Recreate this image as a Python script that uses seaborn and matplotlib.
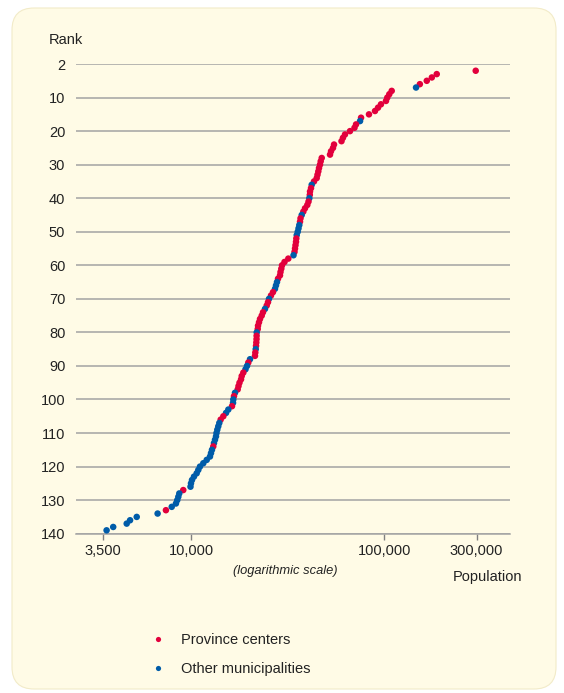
import matplotlib
matplotlib.use("Agg")
import matplotlib.pyplot as plt
from matplotlib.patches import FancyBboxPatch
from matplotlib.ticker import NullLocator
import pandas as pd
import seaborn as sns

# rank 2 .. 139, population
ranks = list(range(2, 140))
population = [
    297000, 186700, 176100, 165800, 152700, 145900, 109200, 106100, 103600, 102000,
    96100, 92800, 89500, 83300, 75800, 74900, 71400, 70100, 66450, 62600,
    61100, 60050, 54930, 54280, 53000, 52380, 47450, 46880, 46490, 45940,
    45560, 45120, 44690, 43280, 42110, 41760, 41270, 41170, 40930, 40540,
    39970, 38890, 38110, 37390, 36860, 36640, 36330, 35990, 35650, 35230,
    35060, 34930, 34720, 34520, 34310, 33910, 31870, 30460, 29570, 29320,
    29040, 28870, 28190, 27850, 27520, 27200, 26560, 25930, 25320, 25020,
    24640, 24140, 23580, 23220, 22750, 22480, 22220, 22140, 21880, 21850,
    21830, 21770, 21700, 21620, 21510, 21430, 20200, 19790, 19490, 19140,
    18650, 18300, 18150, 17820, 17610, 17440, 16890, 16690, 16550, 16500,
    16300, 15600, 15180, 14700, 14240, 14010, 13840, 13680, 13550, 13470,
    13310, 13150, 13040, 12840, 12690, 12540, 12060, 11580, 11130, 10910,
    10700, 10360, 10120, 10000, 9940, 9120, 8700, 8600, 8490, 8360,
    7950, 7420, 6720, 5240, 4840, 4650, 3960, 3660,
]
# ranks that are not province centers
other_ranks = [7, 17, 36, 40, 45, 48, 49, 50, 51, 57, 65, 66, 67, 70, 73, 80, 85,
               88, 90, 91, 98, 100, 101, 103, 104, 107, 108, 109, 110, 111, 112,
               113, 115, 116, 117, 118, 119, 120, 121, 122, 123, 124, 125, 126,
               128, 129, 130, 131, 132, 134, 135, 136, 137, 138, 139]
groups = ["Province centers", "Other municipalities"]
colors = ["#e2003c", "#005ca9"]

rank_ticks = [0, 10, 20, 30, 40, 50, 60, 70, 80, 90, 100, 110, 120, 130, 140]
rank_labels = ["2", "10", "20", "30", "40", "50", "60", "70", "80", "90",
               "100", "110", "120", "130", "140"]
pop_ticks = [3500, 10000, 100000, 300000]
pop_labels = ["3,500", "10,000", "100,000", "300,000"]

df = pd.DataFrame({
    "rank": ranks,
    "population": population,
    "type": [groups[1] if r in other_ranks else groups[0] for r in ranks],
})

sns.set_theme(style="white")
plt.rcParams["font.family"] = ["Liberation Sans", "DejaVu Sans"]
txt = "#222222"
grid = "#a3a3a3"

fig = plt.figure(figsize=(5.64, 6.93), dpi=100, facecolor="white")
bg = FancyBboxPatch((0.12, 0.04), 5.44, 6.81,
                    boxstyle="round,pad=0,rounding_size=0.22",
                    transform=fig.dpi_scale_trans, facecolor="#fffbe6",
                    edgecolor="#f2ebc8", linewidth=0.8, zorder=-5)
fig.patches.append(bg)

ax = fig.add_axes([0.1342, 0.2299, 0.7701, 0.6777])
ax.set_zorder(2)
ax.patch.set_alpha(0)

sns.scatterplot(data=df, x="population", y="rank", hue="type",
                hue_order=groups, palette=colors, s=22, linewidth=0,
                ax=ax, zorder=3)

ax.set_xscale("log")
ax.set_xlim(2533, 446900)
ax.set_ylim(140, 0)

ax.set_yticks(rank_ticks)
ax.set_yticklabels(rank_labels)
ax.set_xticks(pop_ticks)
ax.set_xticklabels(pop_labels)
ax.xaxis.set_minor_locator(NullLocator())

ax.grid(axis="y", color=grid, linewidth=1.1)
ax.grid(axis="x", visible=False)
for side in ["top", "left", "right"]:
    ax.spines[side].set_visible(False)
ax.spines["bottom"].set_color(grid)
ax.spines["bottom"].set_linewidth(1.1)

ax.tick_params(axis="y", length=0, pad=7.5, labelsize=10.5, labelcolor=txt)
ax.tick_params(axis="x", length=4.5, width=1, color="#808080", pad=3,
               labelsize=10.5, labelcolor=txt, bottom=True)
ax.set_xlabel("")
ax.set_ylabel("")

fig.text(65.5 / 564, 1 - 40 / 693, "Rank", ha="center", va="center",
         fontsize=10.5, color=txt)
fig.text(285 / 564, 1 - 571 / 693, "(logarithmic scale)", ha="center",
         va="center", fontsize=9.3, style="italic", color=txt)
fig.text(487.5 / 564, 1 - 577 / 693, "Population", ha="center", va="center",
         fontsize=10.5, color=txt)

sns.move_legend(ax, "upper left", bbox_to_anchor=(130 / 564, 1 - 620 / 693),
                bbox_transform=fig.transFigure, frameon=False, title=None,
                fontsize=10.5, labelspacing=1.05, handletextpad=0.6,
                markerscale=0.8, labelcolor=txt)

fig.savefig("out.png", dpi=100, facecolor="white")
